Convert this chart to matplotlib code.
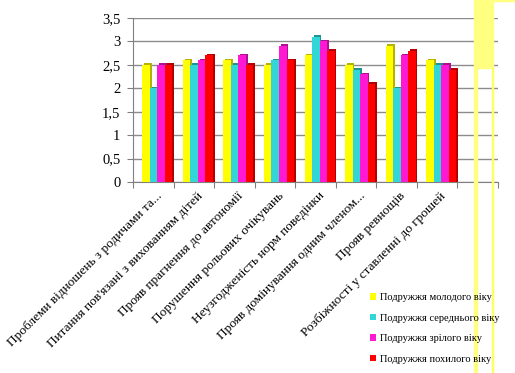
import numpy as np
import matplotlib
matplotlib.use("Agg")
import matplotlib.pyplot as plt
import matplotlib.transforms as mtransforms
from matplotlib.patches import Rectangle

plt.rcParams['font.family'] = ['Liberation Serif', 'DejaVu Serif']

categories = [
    "Проблеми відношень з родичами та...",
    "Питання пов'язані з вихованням дітей",
    "Прояв прагнення до автономії",
    "Порушення рольових очікувань",
    "Неузгодженість норм поведінки",
    "Прояв домінування одним членом...",
    "Прояв ревнощів",
    "Розбіжності у ставленні до грошей",
]
series_names = [
    "Подружжя молодого віку",
    "Подружжя середнього віку",
    "Подружжя зрілого віку",
    "Подружжя похилого віку",
]
young = [2.5, 2.6, 2.6, 2.5, 2.7, 2.5, 2.9, 2.6]
middle = [2.0, 2.5, 2.5, 2.6, 3.1, 2.4, 2.0, 2.5]
mature = [2.5, 2.6, 2.7, 2.9, 3.0, 2.3, 2.7, 2.5]
elderly = [2.5, 2.7, 2.5, 2.6, 2.8, 2.1, 2.8, 2.4]
yticks = [0, 0.5, 1, 1.5, 2, 2.5, 3, 3.5]
ytick_labels = ["0", "0,5", "1", "1,5", "2", "2,5", "3", "3,5"]

face_colors = ["#ffff00", "#33d6d6", "#ff19d2", "#ff0000"]
side_colors = ["#b3b300", "#1f9494", "#b0108f", "#b00000"]

fig = plt.figure(figsize=(5.15, 3.73), dpi=100)
ax = fig.add_axes([133 / 515, (373 - 182) / 373, 365 / 515, 164 / 373])

n = len(categories)
x = np.arange(n)
w = 0.185
dx, dy = 0.045, 0.035
all_series = [young, middle, mature, elderly]
for i, vals in enumerate(all_series):
    pos = x - 0.32 + i * w + w / 2 + 0.05
    ax.bar(pos + dx, np.array(vals) + dy, width=w, color=side_colors[i], zorder=2 + i * 2)
    ax.bar(pos, vals, width=w, color=face_colors[i], zorder=3 + i * 2,
           label=series_names[i])

ax.set_xlim(-0.5, n + 0.5)
ax.set_ylim(0, 3.5)
ax.set_yticks(yticks)
ax.set_yticklabels(ytick_labels, fontsize=10.5)
ax.yaxis.grid(True, color="#8c8c8c", linewidth=1.0, zorder=0)
ax.set_axisbelow(True)

# boundaries as major ticks, labels on minor ticks at centres
ax.set_xticks(np.arange(-0.5, n + 1, 1))
ax.set_xticklabels([])
ax.set_xticks(x, minor=True)
ax.set_xticklabels(categories, minor=True, rotation=45, ha='right',
                   va='top', rotation_mode='anchor', fontsize=9.6)
ax.tick_params(axis='x', which='major', length=4, color="#808080")
ax.tick_params(axis='x', which='minor', length=0, pad=5)
ax.tick_params(axis='y', length=4, color="#808080", pad=5)
offset = mtransforms.ScaledTranslation(3 / 100, -1 / 100, fig.dpi_scale_trans)
for lab in ax.get_xticklabels(minor=True):
    lab.set_transform(lab.get_transform() + offset)

for s in ['top', 'right']:
    ax.spines[s].set_visible(False)
ax.spines['left'].set_color("#808080")
ax.spines['bottom'].set_color("#808080")

# yellow highlight strip on the right edge
fig.patches.append(Rectangle((474 / 515, (373 - 68) / 373), 19 / 515, 68 / 373,
                             transform=fig.transFigure, color="#ffff80", zorder=5))
fig.patches.append(Rectangle((474 / 515, 0), 3 / 515, (373 - 68) / 373,
                             transform=fig.transFigure, color="#ffff80", zorder=5))
fig.patches.append(Rectangle((492 / 515, 0), 1.2 / 515, (373 - 68) / 373,
                             transform=fig.transFigure, color="#ffff60", zorder=5))
fig.patches.append(Rectangle((493 / 515, 372 / 373), 22 / 515, 1.5 / 373,
                             transform=fig.transFigure, color="#ffff80", zorder=5))

leg = fig.legend(loc='upper left', bbox_to_anchor=(366 / 515, (373 - 289) / 373),
                 frameon=False, fontsize=7.5, handlelength=0.6, handleheight=0.6,
                 handletextpad=0.3, labelspacing=1.1, borderaxespad=0)

fig.savefig("out.png", dpi=100)
